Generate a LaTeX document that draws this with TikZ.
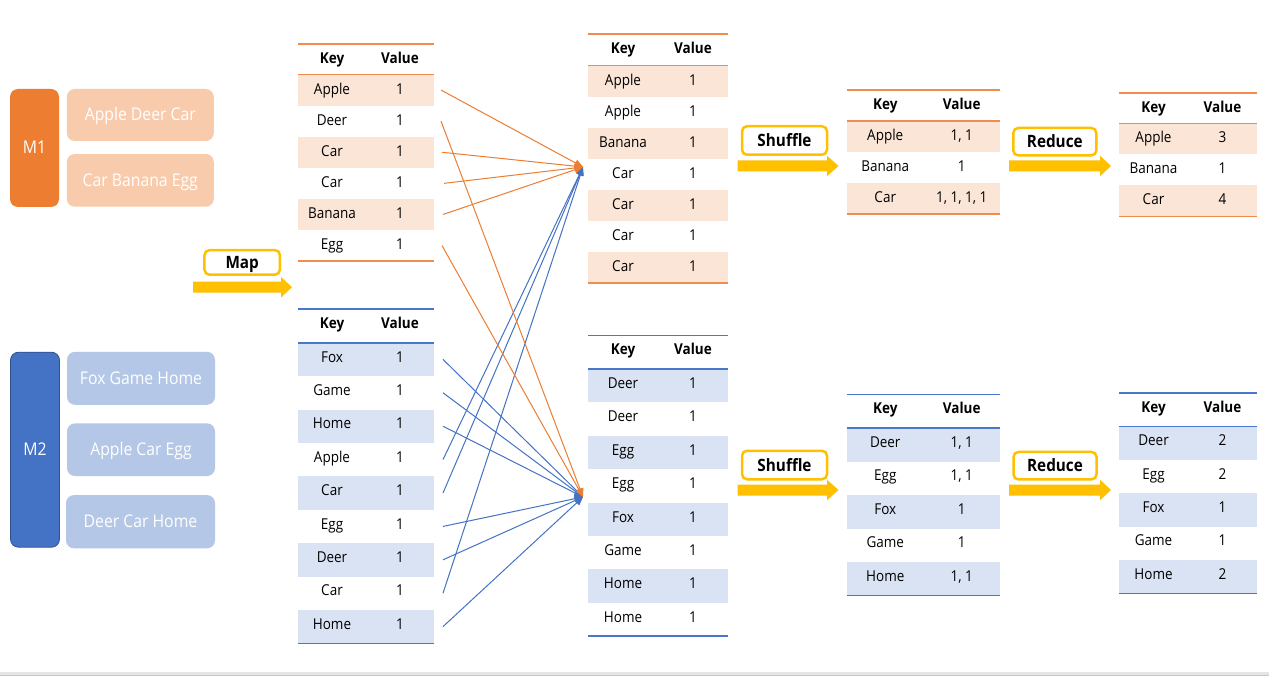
\documentclass[tikz,border=0pt]{standalone}
\usepackage{fontspec}
\setmainfont{Open Sans}[FakeStretch=0.9]
\usetikzlibrary{arrows.meta}
\definecolor{ordark}{HTML}{ED7D31}
\definecolor{orbox}{HTML}{F8CBAD}
\definecolor{orshade}{HTML}{FBE5D6}
\definecolor{orrule}{HTML}{F08C4E}
\definecolor{bldark}{HTML}{4472C4}
\definecolor{blborder}{HTML}{2F528F}
\definecolor{blbox}{HTML}{B4C7E7}
\definecolor{blshade}{HTML}{DAE3F3}
\definecolor{blrule}{HTML}{4A78C8}
\definecolor{yel}{HTML}{FFC000}
\tikzset{
  every node/.style={inner sep=0pt, outer sep=0pt},
  cell/.style={font=\fontsize{15}{18}\selectfont, anchor=base, text=black},
  hdr/.style={font=\fontsize{15}{18}\selectfont\bfseries, anchor=base, text=black},
  trule/.style={line width=1.6pt},
  src/.style={rounded corners=8pt, text=white, font=\fontsize{17.5}{20}\selectfont, text height=12pt, text depth=0pt},
  lbl/.style={draw=yel, line width=2.5pt, fill=white, rounded corners=5pt, font=\fontsize{17}{20}\selectfont\bfseries, text height=12pt, text depth=0pt},
  ora/.style={draw=ordark, line width=1pt, -{Triangle[length=8.5pt,width=7pt]}},
  bla/.style={draw=bldark, line width=1pt, -{Triangle[length=8.5pt,width=7pt]}},
}
% #1 name, #2 xL, #3 xR, #4 ytop, #5 yhead, #6 rowh, #7 theme, #8 baseline offset, #9 rows
\newcommand{\kvtab}[9]{%
  \foreach \kk/\vv [count=\ii] in {#9}{%
    \pgfmathsetmacro\yc{#5+(\ii-0.5)*#6}%
    \ifodd\ii \def\rf{#7shade}\else\def\rf{white}\fi
    \node[fill=\rf, minimum width={(#3-#2)*1pt}, minimum height={#6*1pt}] (#1-\ii) at ({(#2+#3)/2},\yc) {};
    \node[cell] (#1-\ii-k) at ({#2+0.25*(#3-#2)},\yc+#8) {\kk};
    \node[cell] (#1-\ii-v) at ({#2+0.75*(#3-#2)},\yc+#8) {\vv};
    \pgfmathsetmacro\yb{#5+\ii*#6}\xdef\kvbot{\yb}%
  }
  \node[hdr] (#1-hk) at ({#2+0.25*(#3-#2)},{(#4+#5)/2+#8}) {Key};
  \node[hdr] (#1-hv) at ({#2+0.75*(#3-#2)},{(#4+#5)/2+#8}) {Value};
  \draw[trule,#7rule] (#2,#4) -- (#3,#4) (#2,#5) -- (#3,#5) (#2,\kvbot) -- (#3,\kvbot);
}
% #1 shaft start x, #2 head base x, #3 tip x, #4 centre y
\newcommand{\yarrow}[4]{%
  \fill[yel] (#1,#4-5.5) -- (#2,#4-5.5) -- (#2,#4-10.3) -- (#3,#4) -- (#2,#4+10.3) -- (#2,#4+5.5) -- (#1,#4+5.5) -- cycle;
}
\begin{document}
\begin{tikzpicture}[x=1pt,y=-1pt]
\useasboundingbox (0,0) rectangle (1269,676);
\fill[white] (0,0) rectangle (1269,676);
\fill[black!10] (0,672) rectangle (1269,674.5);
\fill[black!22] (0,674.5) rectangle (1269,676);

% input splits
\node[src, fill=ordark, minimum width=49pt, minimum height=118pt] (m1) at (34.5,148) {M1};
\node[src, fill=orbox, minimum width=147pt, minimum height=52pt] (s1) at (140.3,115) {Apple Deer Car};
\node[src, fill=orbox, minimum width=147pt, minimum height=52.7pt] (s2) at (140.3,180.4) {Car Banana Egg};
\node[src, fill=bldark, draw=blborder, line width=0.8pt, minimum width=49pt, minimum height=195pt] (m2) at (35,449.7) {M2};
\node[src, fill=blbox, minimum width=148pt, minimum height=53pt] (s3) at (141,378.3) {Fox Game Home};
\node[src, fill=blbox, minimum width=148pt, minimum height=52.7pt] (s4) at (141,449.7) {Apple Car Egg};
\node[src, fill=blbox, minimum width=149pt, minimum height=53.3pt] (s5) at (140.5,521.7) {Deer Car Home};

% stage labels and arrows
\yarrow{193}{281}{292}{287.2}
\node[lbl, minimum width=75.5pt, minimum height=24.5pt] (map) at (242.2,262.4) {Map};
\yarrow{737.5}{827}{838.5}{166}
\node[lbl, minimum width=85pt, minimum height=28.5pt] (sh1) at (784.5,140.5) {Shuffle};
\yarrow{737.5}{827}{838.5}{490}
\node[lbl, minimum width=85pt, minimum height=28.5pt] (sh2) at (784.5,465) {Shuffle};
\yarrow{1009}{1100}{1111}{166}
\node[lbl, minimum width=83pt, minimum height=27.5pt] (rd1) at (1054.8,141.7) {Reduce};
\yarrow{1009}{1100}{1111}{490}
\node[lbl, minimum width=83pt, minimum height=27.5pt] (rd2) at (1055,465.7) {Reduce};

% tables
\kvtab{a}{298}{434}{44}{74.5}{31.1}{or}{4}{Apple/1, Deer/1, Car/1, Car/1, Banana/1, Egg/1}
\kvtab{b}{298}{434}{309}{342.7}{33.4}{bl}{2.7}{Fox/1, Game/1, Home/1, Apple/1, Car/1, Egg/1, Deer/1, Car/1, Home/1}
\kvtab{c}{588}{728}{34}{65.5}{31.1}{or}{4}{Apple/1, Apple/1, Banana/1, Car/1, Car/1, Car/1, Car/1}
\kvtab{d}{588}{728}{335.3}{369}{33.4}{bl}{2.7}{Deer/1, Deer/1, Egg/1, Egg/1, Fox/1, Game/1, Home/1, Home/1}
\kvtab{e}{847}{1000}{90}{121}{31.1}{or}{4}{Apple/{1, 1}, Banana/1, Car/{1, 1, 1, 1}}
\kvtab{f}{1119}{1257}{93}{123.5}{31}{or}{4}{Apple/3, Banana/1, Car/4}
\kvtab{g}{847}{1000}{394.5}{428}{33.5}{bl}{2.7}{Deer/{1, 1}, Egg/{1, 1}, Fox/1, Game/1, Home/{1, 1}}
\kvtab{h}{1119}{1257}{393}{426.3}{33.4}{bl}{2.7}{Deer/2, Egg/2, Fox/1, Game/1, Home/2}

% partition targets
\coordinate (tA) at (583,167);
\coordinate (tB) at (583,497);

% blue connectors
\draw[bla] ([xshift=9pt]b-1.east) -- (tB);
\draw[bla] ([xshift=9pt]b-2.east) -- (tB);
\draw[bla] ([xshift=9pt]b-3.east) -- (tB);
\draw[bla] ([xshift=9pt]b-4.east) -- (tA);
\draw[bla] ([xshift=9pt]b-5.east) -- (tA);
\draw[bla] ([xshift=9pt]b-6.east) -- (tB);
\draw[bla] ([xshift=9pt]b-7.east) -- (tB);
\draw[bla] ([xshift=9pt]b-8.east) -- (tA);
\draw[bla] ([xshift=9pt]b-9.east) -- (tB);
% orange connectors
\draw[ora] ([xshift=7pt]a-1.east) -- (tA);
\draw[ora] ([xshift=7pt]a-2.east) -- (tB);
\draw[ora] ([xshift=8pt]a-3.east) -- (tA);
\draw[ora] ([xshift=10pt]a-4.east) -- (tA);
\draw[ora] ([xshift=9pt]a-5.east) -- (tA);
\draw[ora] ([xshift=8pt]a-6.east) -- (tB);
\end{tikzpicture}
\end{document}
